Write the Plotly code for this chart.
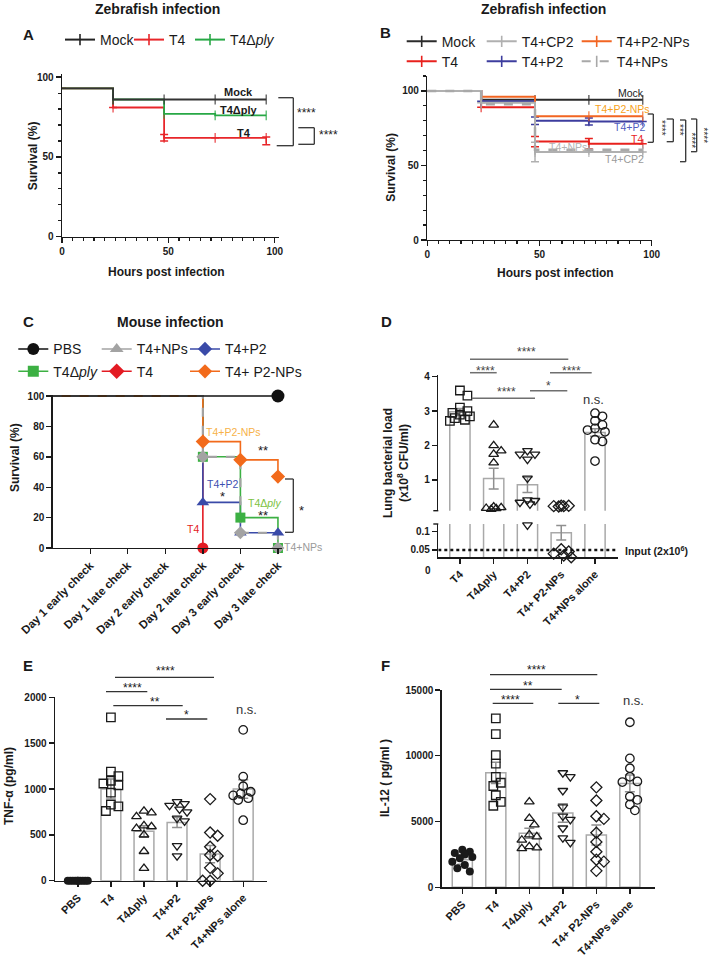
import plotly.graph_objects as go

W, H = 709, 964
FONT = "Liberation Sans, Arial, Helvetica, sans-serif"
INK = "#1a1a1a"

# ======================= DATA =======================
# --- Panel A: zebrafish survival (%) ---
a_hours = [0, 24, 48, 72, 96]
a_mock = [93, 86, 86, 86, 86]
a_t4 = [93, 81, 62, 62, 62]
a_t4_err_plus = [0, 0, 2, 0, 0.5]
a_t4_err_minus = [0, 0, 2, 0, 4.3]
a_t4dply = [93, 86, 77, 76, 76]

# --- Panel B: zebrafish survival (%) ---
b_hours = [0, 24, 48, 72, 96]
b_mock = [100, 94, 94, 94, 94]
b_t4 = [100, 89, 66, 64.5, 64.5]
b_t4_err = [0, 0, 3.4, 3.5, 0]
b_cp2 = [100, 92, 59, 59, 59]
b_cp2_err = [0, 0, 6.5, 0, 0]
b_p2 = [100, 93, 80, 79.5, 79.5]
b_p2_err = [0, 0, 2.5, 2.3, 0]
b_p2nps = [100, 96, 83, 83, 83]
b_nps = [100, 91, 60.5, 60.5, 60.5]

# --- Panel C: mouse survival (%) at each check ---
c_checks = ["Day 1 early check", "Day 1 late check", "Day 2 early check",
            "Day 2 late check", "Day 3 early check", "Day 3 late check"]
c_start = 100
c_pbs = [100, 100, 100, 100, 100, 100]
c_t4 = [100, 100, 100, 0, None, None]
c_t4dply = [100, 100, 100, 60, 20, 0]
c_t4nps = [100, 100, 100, 60, 10, 0]
c_t4p2 = [100, 100, 100, 30, 10, 10]
c_t4p2nps = [100, 100, 100, 70, 58, 47]

# --- Panel D: lung bacterial load (x10^8 CFU/ml) ---
d_groups = ["T4", "T4Δply", "T4+P2", "T4+ P2-NPs", "T4+NPs alone"]
d_mean = [2.98, 1.04, 0.86, 0.097, 2.38]
d_sem = [0.1, 0.3, 0.22, 0.02, 0.11]
d_t4 = [3.6, 3.45, 3.1, 3.0, 2.95, 2.9, 2.85, 2.8, 2.75, 2.72]
d_t4dply = [2.6, 2.0, 1.85, 1.75, 1.5, 0.22, 0.2, 0.18, 0.17, 0.15]
d_t4p2 = [1.85, 1.75, 1.75, 1.6, 1.05, 0.42, 0.4, 0.35, 0.3, 0.118]
d_t4p2nps = [0.25, 0.25, 0.24, 0.24, 0.23, 0.052, 0.046, 0.04, 0.035, 0.03]
d_t4nps = [2.94, 2.85, 2.72, 2.6, 2.5, 2.45, 2.4, 2.17, 2.12, 1.55]
d_input = 0.05

# --- Panels E / F: cytokines (pg/ml) ---
ef_groups = ["PBS", "T4", "T4Δply", "T4+P2", "T4+ P2-NPs", "T4+NPs alone"]
e_mean = [0, 1000, 540, 635, 290, 1000]
e_sem = [0, 110, 60, 55, 95, 100]
e_pbs = [0, 0, 0, 0, 0, 0, 0, 0, 0, 0]
e_t4 = [1780, 1190, 1140, 1090, 1060, 1040, 960, 830, 810, 760]
e_t4dply = [760, 740, 700, 600, 590, 570, 500, 320, 135]
e_t4p2 = [860, 840, 820, 780, 750, 680, 650, 380, 270]
e_t4p2nps = [890, 525, 490, 370, 280, 270, 140, 80, 0, 0]
e_t4nps = [1645, 1135, 1030, 970, 950, 930, 900, 880, 660]

f_mean = [2100, 8700, 4100, 5650, 3980, 7900]
f_sem = [350, 800, 380, 700, 760, 630]
f_pbs = [2850, 2700, 2600, 2500, 2300, 2200, 1950, 1700, 1450, 1200]
f_t4 = [12850, 11650, 10050, 9400, 8400, 7950, 7700, 7000, 6500, 6200]
f_t4dply = [6500, 5250, 4750, 4000, 3850, 3600, 3100, 3000, 2950]
f_t4p2 = [8700, 8400, 7350, 6100, 5400, 5150, 4500, 3750, 3400]
f_t4p2nps = [7600, 6600, 5400, 5200, 4150, 3450, 2700, 2100, 1950, 1250]
f_t4nps = [12550, 9800, 9050, 8400, 8050, 8000, 6900, 6650, 6300, 5850]

# ======================= GEOMETRY (pixels) =======================
GEOM = {
    "A": dict(x=(62, 279), y=(74, 236.7), xr=[0, 102], yr=[0, 102]),
    "B": dict(x=(427.3, 651.7), y=(76, 240), xr=[0, 100], yr=[0, 110]),
    "C": dict(x=(52.7, 281.7), y=(394.8, 548), xr=[-1, 5.1], yr=[0, 100.8]),
    "DU": dict(x=(438.3, 618.3), y=(375, 510.7), xr=[-0.64, 4.69], yr=[0.108, 4.05]),
    "DL": dict(x=(438.3, 618.3), y=(524, 557.3), xr=[-0.64, 4.69], yr=[0.03, 0.121]),
    "E": dict(x=(55, 266.7), y=(697.3, 880.7), xr=[-0.69, 5.71], yr=[0, 2000]),
    "F": dict(x=(441.7, 655), y=(690, 887.3), xr=[-0.615, 5.75], yr=[0, 15000]),
}
AX = {"A": ("x", "y"), "B": ("x2", "y2"), "C": ("x3", "y3"), "DU": ("x4", "y4"),
      "DL": ("x5", "y5"), "E": ("x6", "y6"), "F": ("x7", "y7")}

def scales(p):
    g = GEOM[p]
    cpx = (g["x"][1] - g["x"][0]) / (g["xr"][1] - g["xr"][0])
    upx = (g["y"][1] - g["y"][0]) / (g["yr"][1] - g["yr"][0])
    return cpx, upx

fig = go.Figure()
layout = {}

def base_axis():
    return dict(showline=True, linecolor=INK, linewidth=1.4, ticks="outside", ticklen=5,
                tickwidth=1.4, tickcolor=INK, showgrid=False, zeroline=False,
                tickfont=dict(family=FONT, size=10, color=INK, weight="bold"),
                fixedrange=True, automargin=False, layer="above traces")

def set_axes(p, xextra, yextra):
    g = GEOM[p]
    xa, ya = AX[p]
    xd = base_axis()
    xd.update(domain=[g["x"][0] / W, g["x"][1] / W], range=g["xr"], anchor=ya)
    xd.update(xextra)
    yd = base_axis()
    yd.update(domain=[1 - g["y"][1] / H, 1 - g["y"][0] / H], range=g["yr"], anchor=xa)
    yd.update(yextra)
    layout["xaxis" + xa[1:]] = xd
    layout["yaxis" + ya[1:]] = yd

minor_x = dict(dtick=5, ticks="outside", ticklen=3, tickwidth=1.2, tickcolor=INK, showgrid=False)
minor_y = dict(dtick=10, ticks="outside", ticklen=3, tickwidth=1.2, tickcolor=INK, showgrid=False)
set_axes("A", dict(tickmode="linear", tick0=0, dtick=50, minor=minor_x),
         dict(tickmode="linear", tick0=0, dtick=50, minor=minor_y))
set_axes("B", dict(tickmode="linear", tick0=0, dtick=50, minor=minor_x),
         dict(tickmode="linear", tick0=0, dtick=50, minor=minor_y))
set_axes("C", dict(tickmode="array", tickvals=list(range(len(c_checks))), ticktext=c_checks,
                   tickangle=-45, tickfont=dict(family=FONT, size=11.5, color=INK, weight="bold")),
         dict(tickmode="linear", tick0=0, dtick=20))
set_axes("DU", dict(showline=False, ticks="", showticklabels=False),
         dict(tickmode="array", tickvals=[1, 2, 3, 4], ticktext=["1", "2", "3", "4"]))
set_axes("DL", dict(tickmode="array", tickvals=list(range(len(d_groups))), ticktext=d_groups,
                    tickangle=-45, tickfont=dict(family=FONT, size=11, color=INK, weight="bold")),
         dict(tickmode="array", tickvals=[0.05, 0.1], ticktext=["0.05", "0.1"]))
for p in ("E", "F"):
    set_axes(p, dict(tickmode="array", tickvals=list(range(len(ef_groups))), ticktext=ef_groups,
                     tickangle=-45, tickfont=dict(family=FONT, size=11, color=INK, weight="bold")),
             dict(tickmode="linear", tick0=0, dtick=500 if p == "E" else 5000, tickformat="d"))

# ======================= SURVIVAL CURVES =======================
def km(x, y, color, p, width=1.8, dash="solid", ep=None, em=None):
    xa, ya = AX[p]
    sizes = [0] + [7] * (len(x) - 1)
    t = go.Scatter(x=x, y=y, mode="lines+markers", xaxis=xa, yaxis=ya, showlegend=False,
                   line=dict(color=color, width=width, shape="hv", dash=dash),
                   marker=dict(symbol="line-ns", size=sizes, color=color, line=dict(color=color, width=1.5)),
                   cliponaxis=False, hoverinfo="skip")
    if ep is not None:
        t.error_y = dict(type="data", symmetric=False, array=ep, arrayminus=em if em is not None else ep,
                         color=color, thickness=1.5, width=4)
    fig.add_trace(t)

RED, GREEN = "#e8262a", "#27a845"
km(a_hours, a_t4, RED, "A", ep=a_t4_err_plus, em=a_t4_err_minus)
km(a_hours, a_t4dply, GREEN, "A")
km(a_hours, a_mock, "#333333", "A")

B_MOCK, B_RED, B_CP2, B_BLUE, B_ORANGE, B_NPS = "#2b2b2b", "#e8211d", "#b0b0b0", "#3d3d9e", "#f26522", "#a8a8a8"
km(b_hours, b_mock, B_MOCK, "B", width=2)
km(b_hours, b_t4, B_RED, "B", width=2, ep=b_t4_err)
km(b_hours, b_p2, B_BLUE, "B", width=2, ep=b_p2_err)
km(b_hours, b_p2nps, B_ORANGE, "B", width=2)
km(b_hours, b_cp2, B_CP2, "B", width=2, ep=b_cp2_err)
km(b_hours, b_nps, B_NPS, "B", width=2.5, dash="dash")

# --- Panel C ---
C_COL = dict(pbs="#111111", t4="#e31b23", dply="#3cb043", nps="#a3a3a3", p2="#3a4aa8", p2nps="#f26a1b")

def c_line(vals, color, dash="solid", width=1.6):
    x = [GEOM["C"]["xr"][0]] + list(range(len(vals)))
    y = [c_start] + vals
    fig.add_trace(go.Scatter(x=x, y=y, mode="lines", xaxis="x3", yaxis="y3", showlegend=False,
                             line=dict(color=color, width=width, shape="hv", dash=dash), hoverinfo="skip"))

def c_events(vals, color, symbol, size=11):
    xs, ys = [], []
    prev = c_start
    last = max(i for i, v in enumerate(vals) if v is not None)
    for i, v in enumerate(vals):
        if v is None:
            continue
        if v != prev or i == last:
            xs.append(i)
            ys.append(v)
        prev = v
    fig.add_trace(go.Scatter(x=xs, y=ys, mode="markers", xaxis="x3", yaxis="y3", showlegend=False,
                             marker=dict(symbol=symbol, size=size, color=color), cliponaxis=False,
                             hoverinfo="skip"))

c_line(c_t4, C_COL["t4"])
c_line(c_t4p2, C_COL["p2"])
c_line(c_t4dply, C_COL["dply"])
c_line(c_t4p2nps, C_COL["p2nps"])
c_line(c_t4nps, C_COL["nps"], dash="dash", width=2.2)
c_line(c_pbs, C_COL["pbs"])
c_events(c_t4, C_COL["t4"], "circle", 11)
c_events(c_t4dply, C_COL["dply"], "square", 10)
c_events(c_t4p2, C_COL["p2"], "triangle-up", 11)
c_events(c_t4p2nps, C_COL["p2nps"], "diamond", 11)
c_events(c_t4nps, C_COL["nps"], "diamond", 10)
c_events(c_pbs, C_COL["pbs"], "circle", 13)

# ======================= BAR + SCATTER PANELS =======================
BAR_LINE = "#a9a9a9"
ERR_COL = "#8f8f8f"

def swarm_offsets(vals, upx, cpx, d=7.5, hw=10.0, step=2.5):
    cands = [0.0]
    k = 1
    while k * step <= hw + 1e-9:
        cands += [k * step, -k * step]
        k += 1
    placed = []
    offs = [0.0] * len(vals)
    for i in sorted(range(len(vals)), key=lambda j: -vals[j]):
        yi = vals[i] * upx
        best, best_d = 0.0, -1.0
        for c in cands:
            md = min([((c - ox) ** 2 + (yi - oy) ** 2) ** 0.5 for ox, oy in placed] or [1e9])
            if md >= d:
                best = c
                break
            if md > best_d:
                best, best_d = c, md
        offs[i] = best
        placed.append((best, yi))
    return [o / cpx for o in offs]

def bars(p, means, sems):
    xa, ya = AX[p]
    fig.add_trace(go.Bar(x=list(range(len(means))), y=means, width=0.6, xaxis=xa, yaxis=ya,
                         showlegend=False, hoverinfo="skip",
                         marker=dict(color="white", line=dict(color=BAR_LINE, width=1.5)),
                         error_y=dict(type="data", array=sems, color=ERR_COL, thickness=1.5, width=5)))

def points(p, idx, vals, symbol, size=8.5, filled=False):
    if not vals:
        return
    xa, ya = AX[p]
    cpx, upx = scales(p)
    offs = swarm_offsets(vals, upx, cpx)
    fig.add_trace(go.Scatter(x=[idx + o for o in offs], y=vals, mode="markers", xaxis=xa, yaxis=ya,
                             showlegend=False, hoverinfo="skip", cliponaxis=False,
                             marker=dict(symbol=symbol, size=size, color=INK,
                                         line=dict(color=INK, width=1.3 if not filled else 0))))

SYMS = ["square-open", "triangle-up-open", "triangle-down-open", "diamond-open", "circle-open"]

# Panel D (broken axis)
bars("DU", d_mean, d_sem)
bars("DL", d_mean, d_sem)
split = GEOM["DL"]["yr"][1]
for i, vals in enumerate([d_t4, d_t4dply, d_t4p2, d_t4p2nps, d_t4nps]):
    points("DU", i, [v for v in vals if v > split], SYMS[i])
    points("DL", i, [v for v in vals if v <= split], SYMS[i])

# Panel E
bars("E", e_mean, e_sem)
points("E", 0, e_pbs, "circle", size=8, filled=True)
for i, vals in enumerate([e_t4, e_t4dply, e_t4p2, e_t4p2nps, e_t4nps]):
    points("E", i + 1, vals, SYMS[i])

# Panel F
bars("F", f_mean, f_sem)
points("F", 0, f_pbs, "circle", size=8, filled=True)
for i, vals in enumerate([f_t4, f_t4dply, f_t4p2, f_t4p2nps, f_t4nps]):
    points("F", i + 1, vals, SYMS[i])

# ======================= LEGENDS =======================
legend_count = [0]

def legend_item(name, text_x, y, color, symbol="line-ns", msize=8, dash="solid", lw=2, mline=1.6):
    legend_count[0] += 1
    lid = "legend" if legend_count[0] == 1 else "legend%d" % legend_count[0]
    mk = dict(symbol=symbol, size=msize, color=color)
    if symbol.startswith("line"):
        mk["line"] = dict(color=color, width=mline)
    fig.add_trace(go.Scatter(x=[None], y=[None], name=name, mode="lines+markers", legend=lid,
                             line=dict(color=color, width=lw, dash=dash), marker=mk, showlegend=True))
    layout[lid] = dict(x=(text_x - 40) / W, y=1 - y / H, xanchor="left", yanchor="middle",
                       bgcolor="rgba(0,0,0,0)", borderwidth=0, itemwidth=30,
                       font=dict(family=FONT, size=14, color=INK), orientation="h",
                       itemclick=False, itemdoubleclick=False)

legend_item("Mock", 100, 40, "#222222")
legend_item("T4", 169, 40, RED)
legend_item("T4Δ<i>ply</i>", 230, 40, GREEN)

legend_item("Mock", 441.7, 41.7, B_MOCK)
legend_item("T4+CP2", 521.7, 41.7, B_CP2)
legend_item("T4+P2-NPs", 616.7, 41.7, B_ORANGE)
legend_item("T4", 441.7, 61.7, B_RED)
legend_item("T4+P2", 521.7, 61.7, B_BLUE)
legend_item("T4+NPs", 616.7, 61.7, B_NPS, dash="dash")

legend_item("PBS", 53.3, 349.3, C_COL["pbs"], symbol="circle", msize=12, lw=1.5)
legend_item("T4+NPs", 136.7, 349.3, C_COL["nps"], symbol="triangle-up", msize=12, lw=1.5)
legend_item("T4+P2", 225, 349.3, C_COL["p2"], symbol="diamond", msize=11, lw=1.5)
legend_item("T4Δ<i>ply</i>", 53.3, 371.7, C_COL["dply"], symbol="square", msize=11, lw=1.5)
legend_item("T4", 136.7, 371.7, C_COL["t4"], symbol="diamond", msize=12, lw=1.5)
legend_item("T4+ P2-NPs", 225, 371.7, C_COL["p2nps"], symbol="diamond", msize=11, lw=1.5)

# ======================= ANNOTATIONS & SHAPES =======================
annotations = []
shapes = []

def ann(text, x, y, size=11, color=INK, bold=False, xanchor="center", angle=0):
    annotations.append(dict(text=text, x=x / W, y=1 - y / H, xref="paper", yref="paper",
                            showarrow=False, xanchor=xanchor, yanchor="middle", textangle=angle,
                            font=dict(family=FONT, size=size, color=color,
                                      weight="bold" if bold else "normal")))

def seg(x0, y0, x1, y1, color="#333333", width=1.3):
    shapes.append(dict(type="line", xref="paper", yref="paper", x0=x0 / W, y0=1 - y0 / H,
                       x1=x1 / W, y1=1 - y1 / H, line=dict(color=color, width=width)))

def bracket(xv, ytop, ybot, xl_top, xl_bot=None, color="#333333", width=1.3):
    seg(xv, ytop, xv, ybot, color, width)
    seg(xl_top, ytop, xv, ytop, color, width)
    seg(xl_bot if xl_bot is not None else xl_top, ybot, xv, ybot, color, width)

# end ticks of the broken D axis segments
seg(GEOM["DU"]["x"][0] - 5, GEOM["DU"]["y"][1], GEOM["DU"]["x"][0], GEOM["DU"]["y"][1], INK, 1.4)
seg(GEOM["DL"]["x"][0] - 5, GEOM["DL"]["y"][0], GEOM["DL"]["x"][0], GEOM["DL"]["y"][0], INK, 1.4)

# titles and panel letters
ann("Zebrafish infection", 157.5, 9, size=14, bold=True)
ann("Zebrafish infection", 543.7, 9, size=14, bold=True)
ann("Mouse infection", 170, 322, size=14, bold=True)
for letter, lx, ly in [("A", 28.3, 35), ("B", 385.7, 32.3), ("C", 28.3, 322),
                       ("D", 386.7, 322), ("E", 28.3, 665), ("F", 385, 665)]:
    ann(letter, lx, ly, size=15, bold=True)

# axis titles
ann("Survival (%)", 33.3, 156, size=12, bold=True, angle=-90)
ann("Hours post infection", 166, 272, size=12, bold=True)
ann("Survival (%)", 390.7, 167, size=12, bold=True, angle=-90)
ann("Hours post infection", 555, 273, size=12, bold=True)
ann("Survival (%)", 15, 458, size=12, bold=True, angle=-90)
ann("Lung bacterial load<br>(x10<sup>8</sup> CFU/ml)", 396, 463, size=12, bold=True, angle=-90)
ann("TNF-α (pg/ml)", 9, 786, size=12, bold=True, angle=-90)
ann("IL-12 ( pg/ml )", 385, 778, size=12, bold=True, angle=-90)

# Panel A labels and brackets
ann("Mock", 238.3, 92, size=11, bold=True)
ann("T4Δply", 239.3, 110, size=11, bold=True)
ann("T4", 244.3, 132.7, size=11, bold=True)
bracket(293.3, 97.7, 145.7, 278.3, 276.7)
ann("****", 306.7, 113, size=12)
bracket(314.3, 127.7, 144.3, 298.3)
ann("****", 328.3, 134.7, size=12)

# Panel B labels and brackets
ann("Mock", 630.8, 93.3, size=10.5, color="#222222")
ann("T4+P2-NPs", 622.2, 109.3, size=10.5, color="#f7a21b")
ann("T4+P2", 629.2, 127.5, size=10.5, color="#4f5dc0")
ann("T4", 637.2, 139, size=10.5, color=B_RED)
ann("T4+NPs", 568.3, 146.7, size=10.5, color="#b3b3b3")
ann("T4+CP2", 624.7, 159.3, size=10.5, color="#9a9a9a")
STAR_B = "#333333"
bracket(653.3, 114, 142.3, 647.7)
ann("****", 661, 128, size=10, angle=90, color=STAR_B)
bracket(673.3, 119, 141.7, 666.7)
ann("***", 679, 130, size=10, angle=90, color=STAR_B)
bracket(685.7, 120, 161.7, 680)
ann("****", 691.5, 140, size=10, angle=90, color=STAR_B)
bracket(696.7, 119, 151.7, 691)
ann("****", 702.5, 135, size=10, angle=90, color=STAR_B)

# Panel C labels
ann("T4+P2-NPs", 233.3, 431.7, size=10.5, color="#f7b24a")
ann("**", 263.3, 450.5, size=13)
ann("T4+P2", 222.7, 484, size=10.5, color="#3e4fb0")
ann("*", 222.7, 497, size=13)
ann("T4Δ<i>ply</i>", 264, 502.5, size=10.5, color="#7cc242")
ann("**", 263.3, 515, size=13)
ann("T4", 192.7, 529.3, size=10.5, color=C_COL["t4"])
ann("T4+NPs", 303, 547.3, size=10.5, color="#9a9a9a")
bracket(293.3, 479, 532.3, 285)
ann("*", 301, 510, size=13)

# Panel D annotations
ann("0", 428.3, 570, size=10, bold=True)
ann("Input (2x10<sup>6</sup>)", 623, 550, size=10.5, bold=True, xanchor="left")
shapes.append(dict(type="line", xref="x5", yref="y5", x0=GEOM["DL"]["xr"][0], x1=GEOM["DL"]["xr"][1],
                   y0=d_input, y1=d_input, line=dict(color="#111111", width=2.6, dash="dot")))
SIG_D = "#6f6f6f"
for (x0, x1, yl, txt, tx, ty) in [(470, 568.3, 359.3, "****", 526.7, 352),
                                  (470, 496.7, 372.7, "****", 485, 371),
                                  (550, 591.7, 372.7, "****", 571.7, 371),
                                  (530, 567.3, 390.7, "*", 548.3, 386),
                                  (471.7, 535, 398.3, "****", 506.7, 392)]:
    seg(x0, yl, x1, yl, SIG_D, 1.5)
    ann(txt, tx, ty, size=12, color="#444444")
ann("n.s.", 593.3, 399.3, size=13, color="#333333")

# Panel E annotations
for (x0, x1, yl, txt, tx, ty) in [(115, 214, 677.3, "****", 165.7, 671),
                                  (106, 147.3, 691.7, "****", 132.3, 687.5),
                                  (113.3, 182.7, 705.7, "**", 155, 702),
                                  (166, 207.3, 719, "*", 186, 715)]:
    seg(x0, yl, x1, yl, "#333333", 1.3)
    ann(txt, tx, ty, size=12)
ann("n.s.", 246.7, 709.3, size=13, color="#333333")

# Panel F annotations
for (x0, x1, yl, txt, tx, ty) in [(490, 597.3, 674.7, "****", 536.7, 669.5),
                                  (490, 561.7, 689.3, "**", 528.3, 685.5),
                                  (492.7, 533.3, 703.3, "****", 510, 700),
                                  (558.3, 599.3, 703.3, "*", 577.3, 700)]:
    seg(x0, yl, x1, yl, "#333333", 1.3)
    ann(txt, tx, ty, size=12)
ann("n.s.", 633.3, 700.7, size=13, color="#333333")

fig.update_layout(width=W, height=H, margin=dict(l=0, r=0, t=0, b=0), template="none",
                  paper_bgcolor="white", plot_bgcolor="white", showlegend=True,
                  barmode="overlay", annotations=annotations, shapes=shapes,
                  font=dict(family=FONT, color=INK), hovermode=False, **layout)

fig.write_html("out.html", config={"displayModeBar": False, "staticPlot": True},
               post_script="document.body.style.margin='0';document.body.style.overflow='hidden';")
